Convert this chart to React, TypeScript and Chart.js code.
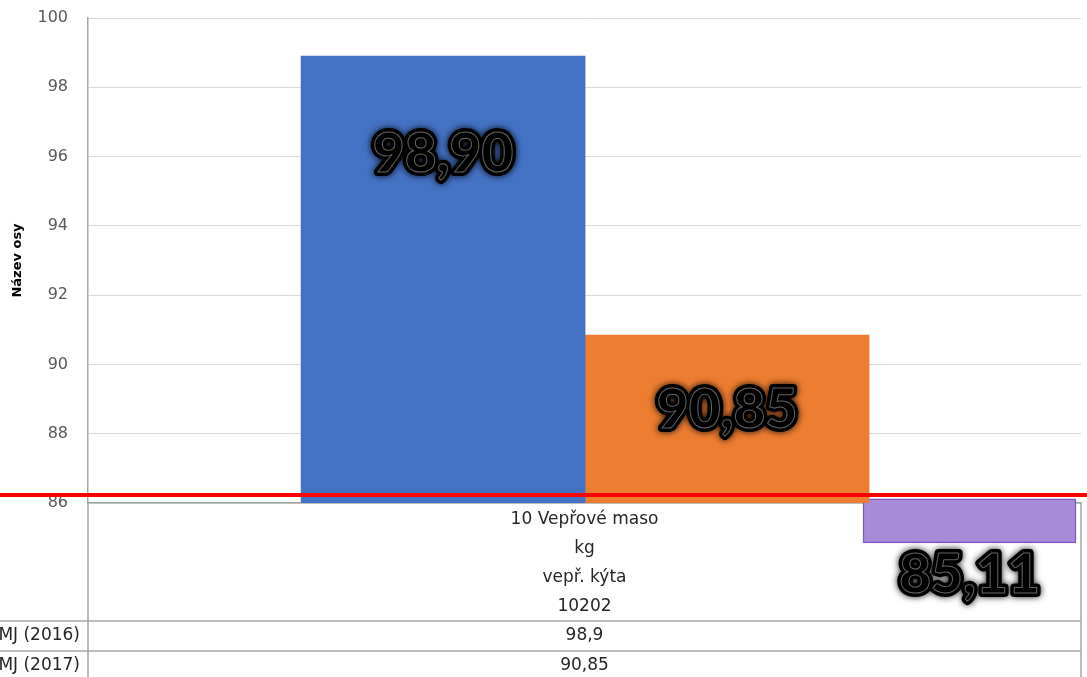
import React, { useEffect, useRef } from 'react';
import { Chart, registerables } from 'chart.js';

Chart.register(...registerables);

// ---- data ----
const categoryLines = ['10 Vepřové maso', 'kg', 'vepř. kýta', '10202'];
const seriesNames = ['MJ (2016)', 'MJ (2017)'];
const values2016 = [98.9];
const values2017 = [90.85];
const purpleValue = 85.11;
const purpleRange = [86.12, 84.85]; // drawn extent of the purple box (axis units)
const redLineValue = 86.23;
const yMin = 86;
const yMax = 100;
const yStep = 2;

const fmt2 = (v: number) => v.toFixed(2).replace('.', ',');
const fmtGeneral = (v: number) => String(v).replace('.', ',');

const bigLabels = [fmt2(values2016[0]), fmt2(values2017[0]), fmt2(purpleValue)];

const FONT = '"DejaVu Sans", sans-serif';

const overlayPlugin = {
  id: 'overlay',
  afterDatasetsDraw(chart: any, _args: any, opts: any) {
    const { ctx } = chart;
    const y = chart.scales.y;
    ctx.save();
    ctx.strokeStyle = '#ff0000';
    ctx.lineWidth = 4;
    const ry = y.getPixelForValue(redLineValue);
    ctx.beginPath();
    ctx.moveTo(0, ry);
    ctx.lineTo(chart.width, ry);
    ctx.stroke();
    ctx.restore();

    const anchors: number[] = opts.labelAnchors;
    bigLabels.forEach((txt, i) => {
      const el = chart.getDatasetMeta(i).data[0];
      if (!el) return;
      const x = el.x;
      const ty = y.getPixelForValue(anchors[i]);
      ctx.save();
      ctx.font = '900 55px Lato, "Open Sans", sans-serif';
      ctx.textAlign = 'center';
      ctx.textBaseline = 'middle';
      ctx.lineJoin = 'round';
      ctx.shadowColor = 'rgba(0,0,0,0.8)';
      ctx.shadowBlur = 7;
      ctx.strokeStyle = '#000';
      ctx.lineWidth = 8;
      ctx.strokeText(txt, x, ty);
      ctx.fillStyle = '#000';
      ctx.fillText(txt, x, ty);
      ctx.shadowBlur = 0;
      ctx.shadowColor = 'transparent';
      ctx.strokeStyle = 'rgba(140,140,140,0.7)';
      ctx.lineWidth = 1;
      ctx.strokeText(txt, x, ty);
      ctx.restore();
    });
  },
  afterDraw(chart: any, _args: any, opts: any) {
    const { ctx, chartArea } = chart;
    const x = chart.scales.x;
    const left = chartArea.left;
    const right = chartArea.right;
    const bottom = chartArea.bottom;
    const H = chart.height;
    const headerBottom = bottom + opts.headerHeight;
    const rowH = opts.rowHeight;
    ctx.save();
    ctx.strokeStyle = '#a6a6a6';
    ctx.lineWidth = 1.5;
    ctx.beginPath();
    ctx.moveTo(left, bottom);
    ctx.lineTo(left, H);
    ctx.moveTo(right, bottom);
    ctx.lineTo(right, H);
    for (let r = 0; r <= seriesNames.length; r++) {
      const ly = headerBottom + r * rowH;
      ctx.moveTo(0, ly);
      ctx.lineTo(right, ly);
    }
    ctx.stroke();

    const cx = x.getPixelForValue(0);
    const rowVals = [values2016[0], values2017[0]];
    ctx.font = '17px ' + FONT;
    ctx.fillStyle = '#262626';
    ctx.textBaseline = 'middle';
    seriesNames.forEach((name, r) => {
      const cy = headerBottom + r * rowH + rowH / 2;
      ctx.textAlign = 'right';
      ctx.fillText(name, left - 8, cy);
      ctx.textAlign = 'center';
      ctx.fillText(fmtGeneral(rowVals[r]), cx, cy);
    });
    ctx.restore();
  },
};

export default function App() {
  const ref = useRef<HTMLCanvasElement | null>(null);

  useEffect(() => {
    if (!ref.current) return;
    // all bars live on one hidden linear index axis ("bars"); the visible
    // category axis only carries the data-table header.
    const chart = new Chart(ref.current, {
      type: 'bar',
      data: {
        labels: [categoryLines],
        datasets: [
          {
            label: seriesNames[0],
            data: values2016.map((v) => ({ x: 0, y: v })) as any,
            backgroundColor: '#4472c4',
            borderWidth: 0,
            barThickness: 284,
            xAxisID: 'bars',
          } as any,
          {
            label: seriesNames[1],
            data: values2017.map((v) => ({ x: 0, y: v })) as any,
            backgroundColor: '#ed7d31',
            borderWidth: 0,
            barThickness: 284,
            xAxisID: 'bars',
          } as any,
          {
            label: 'purple',
            data: [{ x: 1, y: purpleRange }] as any,
            backgroundColor: '#a68bd8',
            borderColor: '#7d56c6',
            borderWidth: 1.5,
            borderSkipped: false,
            barThickness: 213,
            grouped: false,
            xAxisID: 'bars',
            clip: false,
          } as any,
        ],
      },
      options: {
        animation: false,
        responsive: false,
        layout: { padding: { top: 18, right: 6, left: 0, bottom: 0 } },
        plugins: {
          legend: { display: false },
          tooltip: { enabled: false },
          overlay: {
            labelAnchors: [96.07, 88.68, 83.92],
            headerHeight: 118,
            rowHeight: 30,
          },
        } as any,
        scales: {
          x: {
            type: 'category',
            grid: { display: false, drawTicks: false, tickLength: 0 },
            border: { display: true, color: '#a6a6a6', width: 1.5 },
            ticks: {
              font: { family: FONT, size: 17, lineHeight: '29px' } as any,
              color: '#262626',
              padding: 2,
              maxRotation: 0,
              autoSkip: false,
            },
            afterFit(scale: any) {
              scale.height = 174;
              scale.paddingLeft = 0;
              scale.paddingRight = 0;
            },
          },
          bars: {
            type: 'linear',
            axis: 'x',
            display: false,
            offset: false,
            min: -1.293,
            max: 1.29,
          },
          y: {
            min: yMin,
            max: yMax,
            ticks: {
              stepSize: yStep,
              font: { family: FONT, size: 16 },
              color: '#595959',
              padding: 20,
            },
            grid: { color: '#d9d9d9', lineWidth: 1, drawTicks: false, tickLength: 0 },
            border: { display: true, color: '#a6a6a6', width: 1.5 },
            title: {
              display: true,
              text: 'Název osy',
              font: { family: FONT, size: 13, weight: 'bold' },
              color: '#000',
              padding: { top: 10, bottom: 0 },
            },
            afterFit(scale: any) {
              scale.width = 88;
              scale.paddingTop = 9;
              scale.paddingBottom = 9;
            },
          },
        },
      } as any,
      plugins: [overlayPlugin],
    });
    return () => chart.destroy();
  }, []);

  return (
    <div style={{ position: 'fixed', left: 0, top: 0, width: 1087, height: 677, background: '#fff' }}>
      <canvas ref={ref} width={1087} height={677} style={{ display: 'block' }} />
    </div>
  );
}
